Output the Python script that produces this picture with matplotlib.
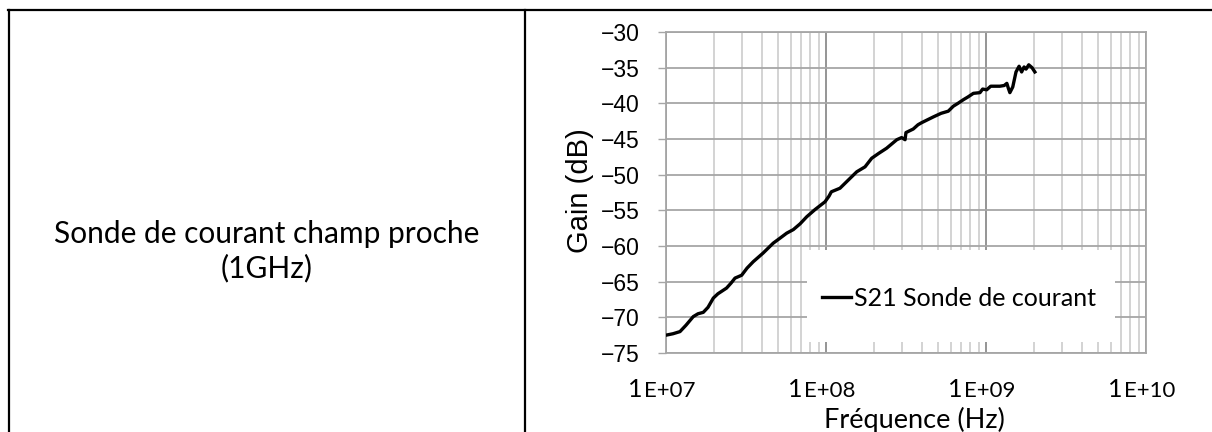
import matplotlib
matplotlib.use("Agg")
import matplotlib.pyplot as plt
from matplotlib.lines import Line2D
from matplotlib.patches import Rectangle
from matplotlib.ticker import LogLocator, NullFormatter, FixedLocator

freq_hz = [1.00e7, 1.106e7, 1.223e7, 1.334e7, 1.48e7, 1.585e7, 1.71e7, 1.83e7,
           1.976e7, 2.11e7, 2.39e7, 2.55e7, 2.70e7, 2.97e7, 3.21e7, 3.51e7,
           4.04e7, 4.68e7, 5.16e7, 5.68e7, 6.25e7, 6.88e7, 7.58e7, 8.53e7,
           9.86e7, 1.045e8, 1.08e8, 1.223e8, 1.372e8, 1.556e8, 1.754e8, 1.93e8,
           2.14e8, 2.39e8, 2.77e8, 2.97e8, 3.12e8, 3.16e8, 3.51e8, 3.76e8,
           3.97e8, 4.69e8, 5.24e8, 5.81e8, 6.25e8, 6.68e8, 7.21e8, 7.72e8,
           8.34e8, 9.17e8, 9.53e8, 1.01e9, 1.07e9, 1.22e9, 1.30e9, 1.35e9,
           1.38e9, 1.41e9, 1.47e9, 1.54e9, 1.61e9, 1.67e9, 1.73e9, 1.78e9,
           1.85e9, 1.94e9, 2.02e9]
gain_db = [-72.5, -72.3, -72.0, -71.1, -69.9, -69.5, -69.3, -68.6,
           -67.3, -66.7, -65.9, -65.2, -64.5, -64.1, -63.1, -62.2,
           -61.0, -59.6, -58.9, -58.2, -57.7, -56.9, -55.9, -54.9,
           -53.8, -53.0, -52.4, -51.9, -50.8, -49.6, -48.9, -47.7,
           -47.0, -46.3, -45.1, -44.8, -45.1, -44.1, -43.6, -43.0,
           -42.7, -41.9, -41.4, -41.1, -40.4, -40.0, -39.5, -39.1,
           -38.6, -38.5, -38.0, -38.1, -37.6, -37.6, -37.5, -37.2,
           -37.9, -38.5, -37.7, -35.6, -34.8, -35.6, -34.9, -35.2,
           -34.6, -35.0, -35.6]

series_name = "S21 Sonde de courant"
cell_text = "Sonde de courant champ proche\n(1GHz)"
decades = [1e7, 1e8, 1e9, 1e10]
decade_mantissa = ["1", "1", "1", "1"]
decade_exponent = ["E+07", "E+08", "E+09", "E+10"]
gain_ticks = [-75, -70, -65, -60, -55, -50, -45, -40, -35, -30]

calibri_like = ["Lato", "DejaVu Sans"]
arial_like = ["Liberation Sans", "DejaVu Sans"]
arial_narrow = ["Liberation Sans Narrow", "Liberation Sans", "DejaVu Sans"]

fig = plt.figure(figsize=(12.12, 4.32), dpi=100)
W, H = 1212.0, 432.0

# table borders
for xs, ys in [((8 / W, 1.0), (1 - 10 / H, 1 - 10 / H)),
               ((8.5 / W, 8.5 / W), (0.0, 1 - 10 / H)),
               ((525 / W, 525 / W), (0.0, 1 - 10 / H))]:
    fig.add_artist(Line2D(xs, ys, color="black", lw=1.6, transform=fig.transFigure))

fig.text(267 / W, 1 - 251 / H, cell_text, ha="center", va="center",
         fontsize=21.5, family=calibri_like, linespacing=1.22)

# chart
ax = fig.add_axes([666 / W, 1 - 353 / H, 480 / W, 321 / H])
ax.plot(freq_hz, gain_db, color="black", lw=2.4, zorder=3,
        solid_joinstyle="round", label=series_name)
ax.set_xscale("log")
ax.set_xlim(decades[0], decades[-1])
ax.set_ylim(gain_ticks[0], gain_ticks[-1])

ax.xaxis.set_major_locator(FixedLocator(decades))
ax.xaxis.set_minor_locator(LogLocator(base=10, subs=range(2, 10)))
ax.xaxis.set_major_formatter(NullFormatter())
ax.xaxis.set_minor_formatter(NullFormatter())
ax.tick_params(axis="x", which="both", length=0)

ax.set_yticks(gain_ticks)
ax.tick_params(axis="y", which="major", direction="out", length=6,
               color="#a6a6a6", width=1.0, pad=13, labelsize=16.5)
for lab in ax.get_yticklabels():
    lab.set_family(arial_like)

ax.set_axisbelow(True)
ax.grid(which="major", axis="x", color="#8c8c8c", lw=1.3)
ax.grid(which="minor", axis="x", color="#c8c8c8", lw=1.1)
ax.grid(which="major", axis="y", color="#a6a6a6", lw=1.3)
for sp in ax.spines.values():
    sp.set_color("#a6a6a6")
    sp.set_linewidth(1.3)

# custom "1E+07" style labels: big mantissa, small exponent part
for xv, m, e in zip(decades, decade_mantissa, decade_exponent):
    ax.annotate(m, xy=(xv, 0), xycoords=("data", "axes fraction"),
                xytext=(-24, -44), textcoords="offset pixels",
                ha="right", va="baseline", fontsize=18, family=calibri_like)
    ax.annotate(e, xy=(xv, 0), xycoords=("data", "axes fraction"),
                xytext=(-22, -44), textcoords="offset pixels",
                ha="left", va="baseline", fontsize=16, family=calibri_like)

ax.annotate("Fréquence (Hz)", xy=(0.518, 0), xycoords="axes fraction",
            xytext=(0, -75), textcoords="offset pixels",
            ha="center", va="baseline", fontsize=19.5, family=calibri_like)
fig.text(580 / W, 1 - 191 / H, "Gain (dB)", rotation=90, ha="center",
         va="center", fontsize=21, family=arial_narrow)

# legend sitting on a white patch inside the plot area
ax.add_patch(Rectangle((0.294, 0.034), 0.641, 0.287, transform=ax.transAxes,
                       facecolor="white", edgecolor="none", zorder=1.5))
leg = ax.legend(loc="center left", bbox_to_anchor=(0.325, 0.171),
                frameon=False, borderpad=0, borderaxespad=0,
                handlelength=1.15, handletextpad=0.12,
                prop={"family": calibri_like, "size": 18})
leg.get_lines()[0].set_linewidth(2.4)

fig.savefig("out.png", dpi=100, facecolor="white")
